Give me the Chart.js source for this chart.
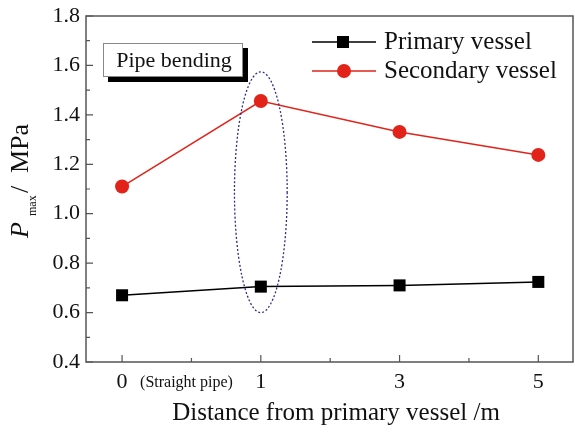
<!DOCTYPE html>
<html>
<head>
<meta charset="utf-8">
<script src="https://cdn.jsdelivr.net/npm/chart.js@4.4.1/dist/chart.umd.min.js"></script>
<style>
  html, body { margin: 0; padding: 0; background: #fff; }
  #wrap { width: 575px; height: 438px; position: relative; }
</style>
</head>
<body>
<div id="wrap"><canvas id="chart" width="575" height="438"></canvas></div>
<script>
// 데이터
const xPositions = [0, 1, 2, 3];
const xLabels = ['0', '1', '3', '5'];
const xNote = '(Straight pipe)';
const primaryVessel = [0.67, 0.705, 0.71, 0.724];
const secondaryVessel = [1.11, 1.456, 1.331, 1.238];
const yTicks = [0.4, 0.6, 0.8, 1.0, 1.2, 1.4, 1.6, 1.8];
const seriesNames = ['Primary vessel', 'Secondary vessel'];
const boxText = 'Pipe bending';

const SERIF = '"Liberation Serif", "DejaVu Serif", serif';
const RED = '#e2231a';
const AXIS = '#555';

// 축, 눈금, 주석 그리기
const decorPlugin = {
    id: 'decor',
    afterDraw(chart) {
        const { ctx, chartArea: a, scales } = chart;
        const xs = scales.x, ys = scales.y;
        ctx.save();

        // 테두리
        ctx.strokeStyle = AXIS;
        ctx.lineWidth = 1.5;
        ctx.strokeRect(a.left, a.top, a.right - a.left, a.bottom - a.top);

        // 안쪽 눈금
        ctx.lineWidth = 1.2;
        ctx.beginPath();
        yTicks.forEach(v => {
            const y = ys.getPixelForValue(v);
            ctx.moveTo(a.left, y); ctx.lineTo(a.left + 7, y);
            if (v < 1.8) {
                const ym = ys.getPixelForValue(v + 0.1);
                ctx.moveTo(a.left, ym); ctx.lineTo(a.left + 4, ym);
            }
        });
        xPositions.forEach(v => {
            const x = xs.getPixelForValue(v);
            ctx.moveTo(x, a.bottom); ctx.lineTo(x, a.bottom - 7);
            if (v < 3) {
                const xm = xs.getPixelForValue(v + 0.5);
                ctx.moveTo(xm, a.bottom); ctx.lineTo(xm, a.bottom - 4);
            }
        });
        ctx.stroke();

        // (Straight pipe)
        ctx.fillStyle = '#111';
        ctx.font = '16px ' + SERIF;
        ctx.textAlign = 'left';
        ctx.textBaseline = 'alphabetic';
        ctx.fillText(xNote, xs.getPixelForValue(0) + 18, a.bottom + 25);

        // x축 제목
        ctx.font = '25px ' + SERIF;
        ctx.textAlign = 'center';
        ctx.textBaseline = 'middle';
        ctx.fillText('Distance from primary vessel /m', 336, 413);

        // y축 제목 (P_max / MPa)
        ctx.save();
        ctx.translate(28, 0);
        ctx.rotate(-Math.PI / 2);
        ctx.textBaseline = 'alphabetic';
        ctx.textAlign = 'left';
        ctx.font = 'italic 26px ' + SERIF;
        ctx.fillText('P', -238, 0);
        ctx.font = '12px ' + SERIF;
        ctx.fillText('max', -216, 8);
        ctx.font = '26px ' + SERIF;
        ctx.fillText('/', -193, 0);
        ctx.fillText('MPa', -173, 0);
        ctx.restore();

        // 점선 타원
        const cx = xs.getPixelForValue(1);
        const cy = ys.getPixelForValue(1.087);
        const rx = xs.getPixelForValue(1.19) - cx;
        const ry = ys.getPixelForValue(0.6) - cy;
        ctx.strokeStyle = '#2b2f8f';
        ctx.lineWidth = 1.3;
        ctx.setLineDash([2, 2]);
        ctx.beginPath();
        ctx.ellipse(cx, cy, rx, ry, 0, 0, Math.PI * 2);
        ctx.stroke();
        ctx.setLineDash([]);

        // Pipe bending 상자
        ctx.fillStyle = '#000';
        ctx.fillRect(108, 48, 140, 34);
        ctx.fillStyle = '#fff';
        ctx.fillRect(103, 43, 140, 34);
        ctx.strokeStyle = '#888';
        ctx.lineWidth = 1;
        ctx.strokeRect(103.5, 43.5, 139, 33);
        ctx.fillStyle = '#111';
        ctx.font = '22px ' + SERIF;
        ctx.textAlign = 'center';
        ctx.textBaseline = 'middle';
        ctx.fillText(boxText, 174, 61);

        // 범례
        const rows = [
            { y: 42, color: '#000', style: 'rect' },
            { y: 71, color: RED, style: 'circle' }
        ];
        rows.forEach((r, i) => {
            ctx.strokeStyle = r.color;
            ctx.lineWidth = 1.5;
            ctx.beginPath();
            ctx.moveTo(312, r.y); ctx.lineTo(376, r.y);
            ctx.stroke();
            ctx.fillStyle = r.color;
            if (r.style === 'rect') {
                ctx.fillRect(343 - 6, r.y - 6, 12, 12);
            } else {
                ctx.beginPath();
                ctx.arc(344, r.y, 7, 0, Math.PI * 2);
                ctx.fill();
            }
            ctx.fillStyle = '#111';
            ctx.font = '25px ' + SERIF;
            ctx.textAlign = 'left';
            ctx.textBaseline = 'middle';
            ctx.fillText(seriesNames[i], 384, r.y);
        });

        ctx.restore();
    }
};

const ctx = document.getElementById('chart').getContext('2d');
new Chart(ctx, {
    type: 'line',
    data: {
        datasets: [{
            label: seriesNames[0],
            data: xPositions.map((x, i) => ({ x: x, y: primaryVessel[i] })),
            borderColor: '#000',
            backgroundColor: '#000',
            borderWidth: 1.5,
            pointStyle: 'rect',
            pointRadius: 8.5,
            pointBorderWidth: 0,
            tension: 0
        }, {
            label: seriesNames[1],
            data: xPositions.map((x, i) => ({ x: x, y: secondaryVessel[i] })),
            borderColor: RED,
            backgroundColor: RED,
            borderWidth: 1.5,
            pointStyle: 'circle',
            pointRadius: 7,
            pointBorderWidth: 0,
            tension: 0
        }]
    },
    options: {
        responsive: false,
        animation: false,
        layout: { autoPadding: false, padding: { left: 0, top: 16, right: 2, bottom: 0 } },
        plugins: { legend: { display: false }, tooltip: { enabled: false } },
        scales: {
            x: {
                type: 'linear',
                min: -0.26,
                max: 3.25,
                afterBuildTicks: (s) => { s.ticks = xPositions.map(v => ({ value: v })); },
                afterFit: (s) => { s.height = 76; s.paddingLeft = 0; s.paddingRight = 0; },
                grid: { display: false, drawTicks: false },
                border: { display: false },
                ticks: {
                    color: '#111',
                    font: { family: SERIF, size: 22 },
                    padding: 7,
                    maxRotation: 0,
                    callback: (v) => xLabels[xPositions.indexOf(v)]
                }
            },
            y: {
                min: 0.4,
                max: 1.8,
                afterBuildTicks: (s) => { s.ticks = yTicks.map(v => ({ value: v })); },
                afterFit: (s) => { s.width = 86; s.paddingTop = 0; s.paddingBottom = 0; },
                grid: { display: false, drawTicks: false },
                border: { display: false },
                ticks: {
                    color: '#111',
                    font: { family: SERIF, size: 22 },
                    padding: 6,
                    callback: (v) => v.toFixed(1)
                }
            }
        }
    },
    plugins: [decorPlugin]
});
</script>
</body>
</html>
